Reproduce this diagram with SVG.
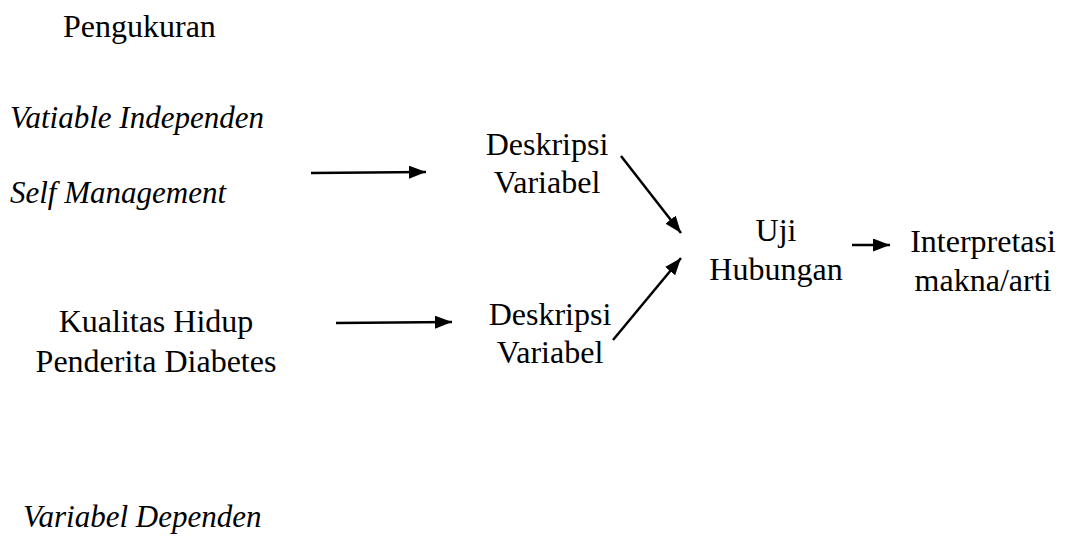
<svg xmlns="http://www.w3.org/2000/svg" width="1065" height="539" viewBox="0 0 1065 539">
<style>
text{font-family:"Liberation Serif","Times New Roman",serif;font-size:32px;fill:#000}
.i{font-style:italic;font-size:31px}
.c{text-anchor:middle}
.ln{stroke:#000;stroke-width:2.5;fill:none}
</style>
<defs>
<marker id="ah" viewBox="0 0 17 13" refX="17" refY="6.5" markerWidth="17" markerHeight="13" markerUnits="userSpaceOnUse" orient="auto">
<path d="M0,0 L17,6.5 L0,13 Z" fill="#000"/>
</marker>
</defs>
<rect width="1065" height="539" fill="#fff"/>
<g id="pengukuran"><text x="63" y="37">Pengukuran</text></g>
<g id="var-independen"><text class="i" x="10" y="128">Vatiable Independen</text></g>
<g id="self-management"><text class="i" x="10" y="203">Self Management</text></g>
<g id="kualitas-hidup"><text class="c" x="156" y="332">Kualitas Hidup</text><text class="c" x="156" y="372">Penderita Diabetes</text></g>
<g id="var-dependen"><text class="i" x="23" y="527">Variabel Dependen</text></g>
<g id="deskripsi1"><text class="c" x="547" y="155">Deskripsi</text><text class="c" x="547" y="193">Variabel</text></g>
<g id="deskripsi2"><text class="c" x="550" y="325">Deskripsi</text><text class="c" x="550" y="363">Variabel</text></g>
<g id="uji"><text class="c" x="776" y="241">Uji</text><text class="c" x="776" y="280">Hubungan</text></g>
<g id="interpretasi"><text class="c" x="983" y="252">Interpretasi</text><text class="c" x="983" y="291">makna/arti</text></g>
<g id="connectors">
<line class="ln" x1="311" y1="173" x2="426" y2="172" marker-end="url(#ah)"/>
<line class="ln" x1="336" y1="323" x2="452" y2="322" marker-end="url(#ah)"/>
<line class="ln" x1="621" y1="156" x2="681" y2="233" marker-end="url(#ah)"/>
<line class="ln" x1="613" y1="340" x2="681" y2="258" marker-end="url(#ah)"/>
<line class="ln" x1="852" y1="245" x2="890" y2="245" marker-end="url(#ah)"/>
</g>
</svg>
